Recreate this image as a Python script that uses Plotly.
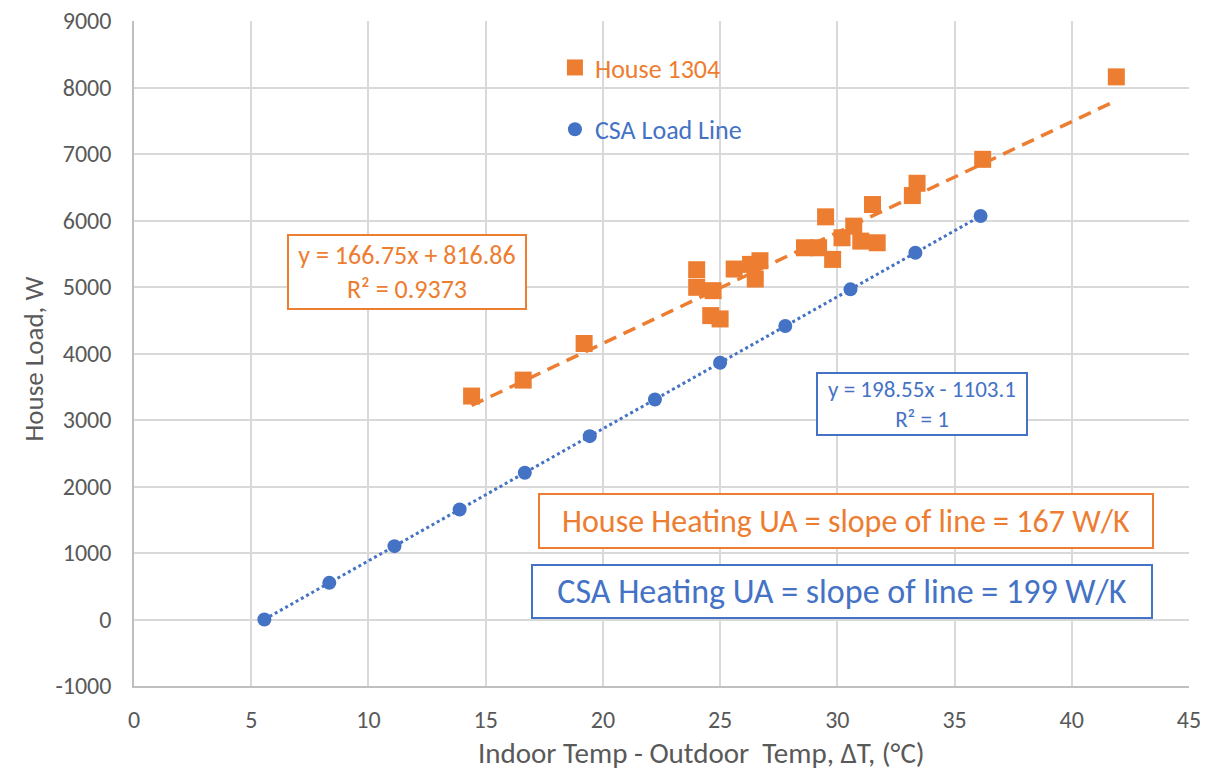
import plotly.graph_objects as go

# House 1304 measured data (ΔT °C, load W)
house_dt = [14.4, 16.6, 19.2, 24.0, 24.0, 24.7, 24.6, 25.0, 25.6, 26.3, 26.7, 26.5,
            28.6, 29.2, 29.5, 29.8, 30.2, 30.7, 31.0, 31.7, 31.5, 33.2, 33.4, 36.2, 41.9]
house_w = [3360, 3600, 4150, 5260, 4995, 4945, 4570, 4520, 5270, 5340, 5395, 5120,
           5590, 5590, 6055, 5415, 5740, 5915, 5690, 5665, 6240, 6375, 6560, 6920, 8160]

# CSA load line points
csa_dt = [5.56, 8.33, 11.11, 13.89, 16.67, 19.44, 22.22, 25.0, 27.78, 30.56, 33.33, 36.11]
csa_w = [0, 551, 1103, 1655, 2207, 2757, 3309, 3861, 4413, 4965, 5515, 6067]

# trendline coefficients
house_slope, house_int = 166.75, 816.86
csa_slope, csa_int = 198.55, -1103.1

x_ticks = [0, 5, 10, 15, 20, 25, 30, 35, 40, 45]
y_ticks = [-1000, 0, 1000, 2000, 3000, 4000, 5000, 6000, 7000, 8000, 9000]
y_tick_text = ["-1000", "0", "1000", "2000", "3000", "4000", "5000", "6000", "7000", "8000", "9000"]

ORANGE = "#ED7D31"
BLUE = "#4472C4"
GREY = "#595959"
FONT = "Carlito, Lato, sans-serif"

fig = go.Figure()

hx = [min(house_dt), max(house_dt)]
fig.add_trace(go.Scatter(x=hx, y=[house_slope * v + house_int for v in hx], mode="lines",
                         line=dict(color=ORANGE, width=3.5, dash="13px,8px"), showlegend=False,
                         hoverinfo="skip"))
cx = [min(csa_dt), max(csa_dt)]
fig.add_trace(go.Scatter(x=cx, y=[csa_slope * v + csa_int for v in cx], mode="lines",
                         line=dict(color=BLUE, width=3, dash="3px,3px"), showlegend=False,
                         hoverinfo="skip"))

fig.add_trace(go.Scatter(x=house_dt, y=house_w, mode="markers", name="House 1304",
                         marker=dict(symbol="square", size=17, color=ORANGE),
                         legend="legend"))
fig.add_trace(go.Scatter(x=csa_dt, y=csa_w, mode="markers", name="CSA Load Line",
                         marker=dict(symbol="circle", size=14, color=BLUE),
                         legend="legend2"))

annos = [
    dict(x=11.65, y=5225, text="y = 166.75x + 816.86<br>R² = 0.9373",
         font=dict(family=FONT, size=26, color=ORANGE), bordercolor=ORANGE, width=234, height=70),
    dict(x=33.59, y=3235, text="y = 198.55x - 1103.1<br>R² = 1",
         font=dict(family=FONT, size=23, color=BLUE), bordercolor=BLUE, width=206, height=58),
    dict(x=30.39, y=1482, text="House Heating UA = slope of line = 167 W/K",
         font=dict(family=FONT, size=32, color=ORANGE), bordercolor=ORANGE, width=610, height=50),
    dict(x=30.22, y=427, text="CSA Heating UA = slope of line = 199 W/K",
         font=dict(family=FONT, size=34, color=BLUE), bordercolor=BLUE, width=616, height=49),
]
for a in annos:
    fig.add_annotation(xref="x", yref="y", showarrow=False, borderwidth=2,
                       borderpad=1, bgcolor="white", align="center", **a)

# axis titles
fig.add_annotation(xref="paper", yref="paper", x=0.538, y=-0.1, xanchor="center",
                   yanchor="middle", showarrow=False,
                   text="Indoor Temp - Outdoor  Temp, ΔT, (°C)",
                   font=dict(family=FONT, size=29, color=GREY))
fig.add_annotation(xref="paper", yref="paper", x=-0.0948, y=0.4925, xanchor="center",
                   yanchor="middle", showarrow=False, textangle=-90,
                   text="House Load, W", font=dict(family=FONT, size=27, color=GREY))

fig.update_layout(
    width=1200, height=763,
    margin=dict(l=126, r=19, t=13, b=85, autoexpand=False),
    paper_bgcolor="white", plot_bgcolor="white",
    font=dict(family=FONT, color=GREY),
    legend=dict(x=0.399, y=0.93, xanchor="left", yanchor="middle",
                bgcolor="rgba(0,0,0,0)", font=dict(family=FONT, size=26, color=ORANGE)),
    legend2=dict(x=0.399, y=0.837, xanchor="left", yanchor="middle",
                 bgcolor="rgba(0,0,0,0)", font=dict(family=FONT, size=26, color=BLUE)),
    xaxis=dict(range=[0, 45], tickvals=x_ticks, showgrid=True, gridcolor="#D9D9D9",
               gridwidth=1.5, zeroline=False, showline=True, linecolor="#BFBFBF",
               linewidth=1.5, tickfont=dict(family=FONT, size=24, color=GREY), ticks="",
               ticklabelstandoff=11, ticklabeloverflow="allow", automargin=False),
    yaxis=dict(range=[-1000, 9000], tickvals=y_ticks, ticktext=y_tick_text,
               showgrid=True, gridcolor="#D9D9D9",
               gridwidth=1.5, zeroline=False, showline=True, linecolor="#BFBFBF",
               linewidth=1.5, tickfont=dict(family=FONT, size=24, color=GREY), ticks="",
               ticklabelstandoff=16, ticklabeloverflow="allow", automargin=False),
)

fig.write_html("out.html")
